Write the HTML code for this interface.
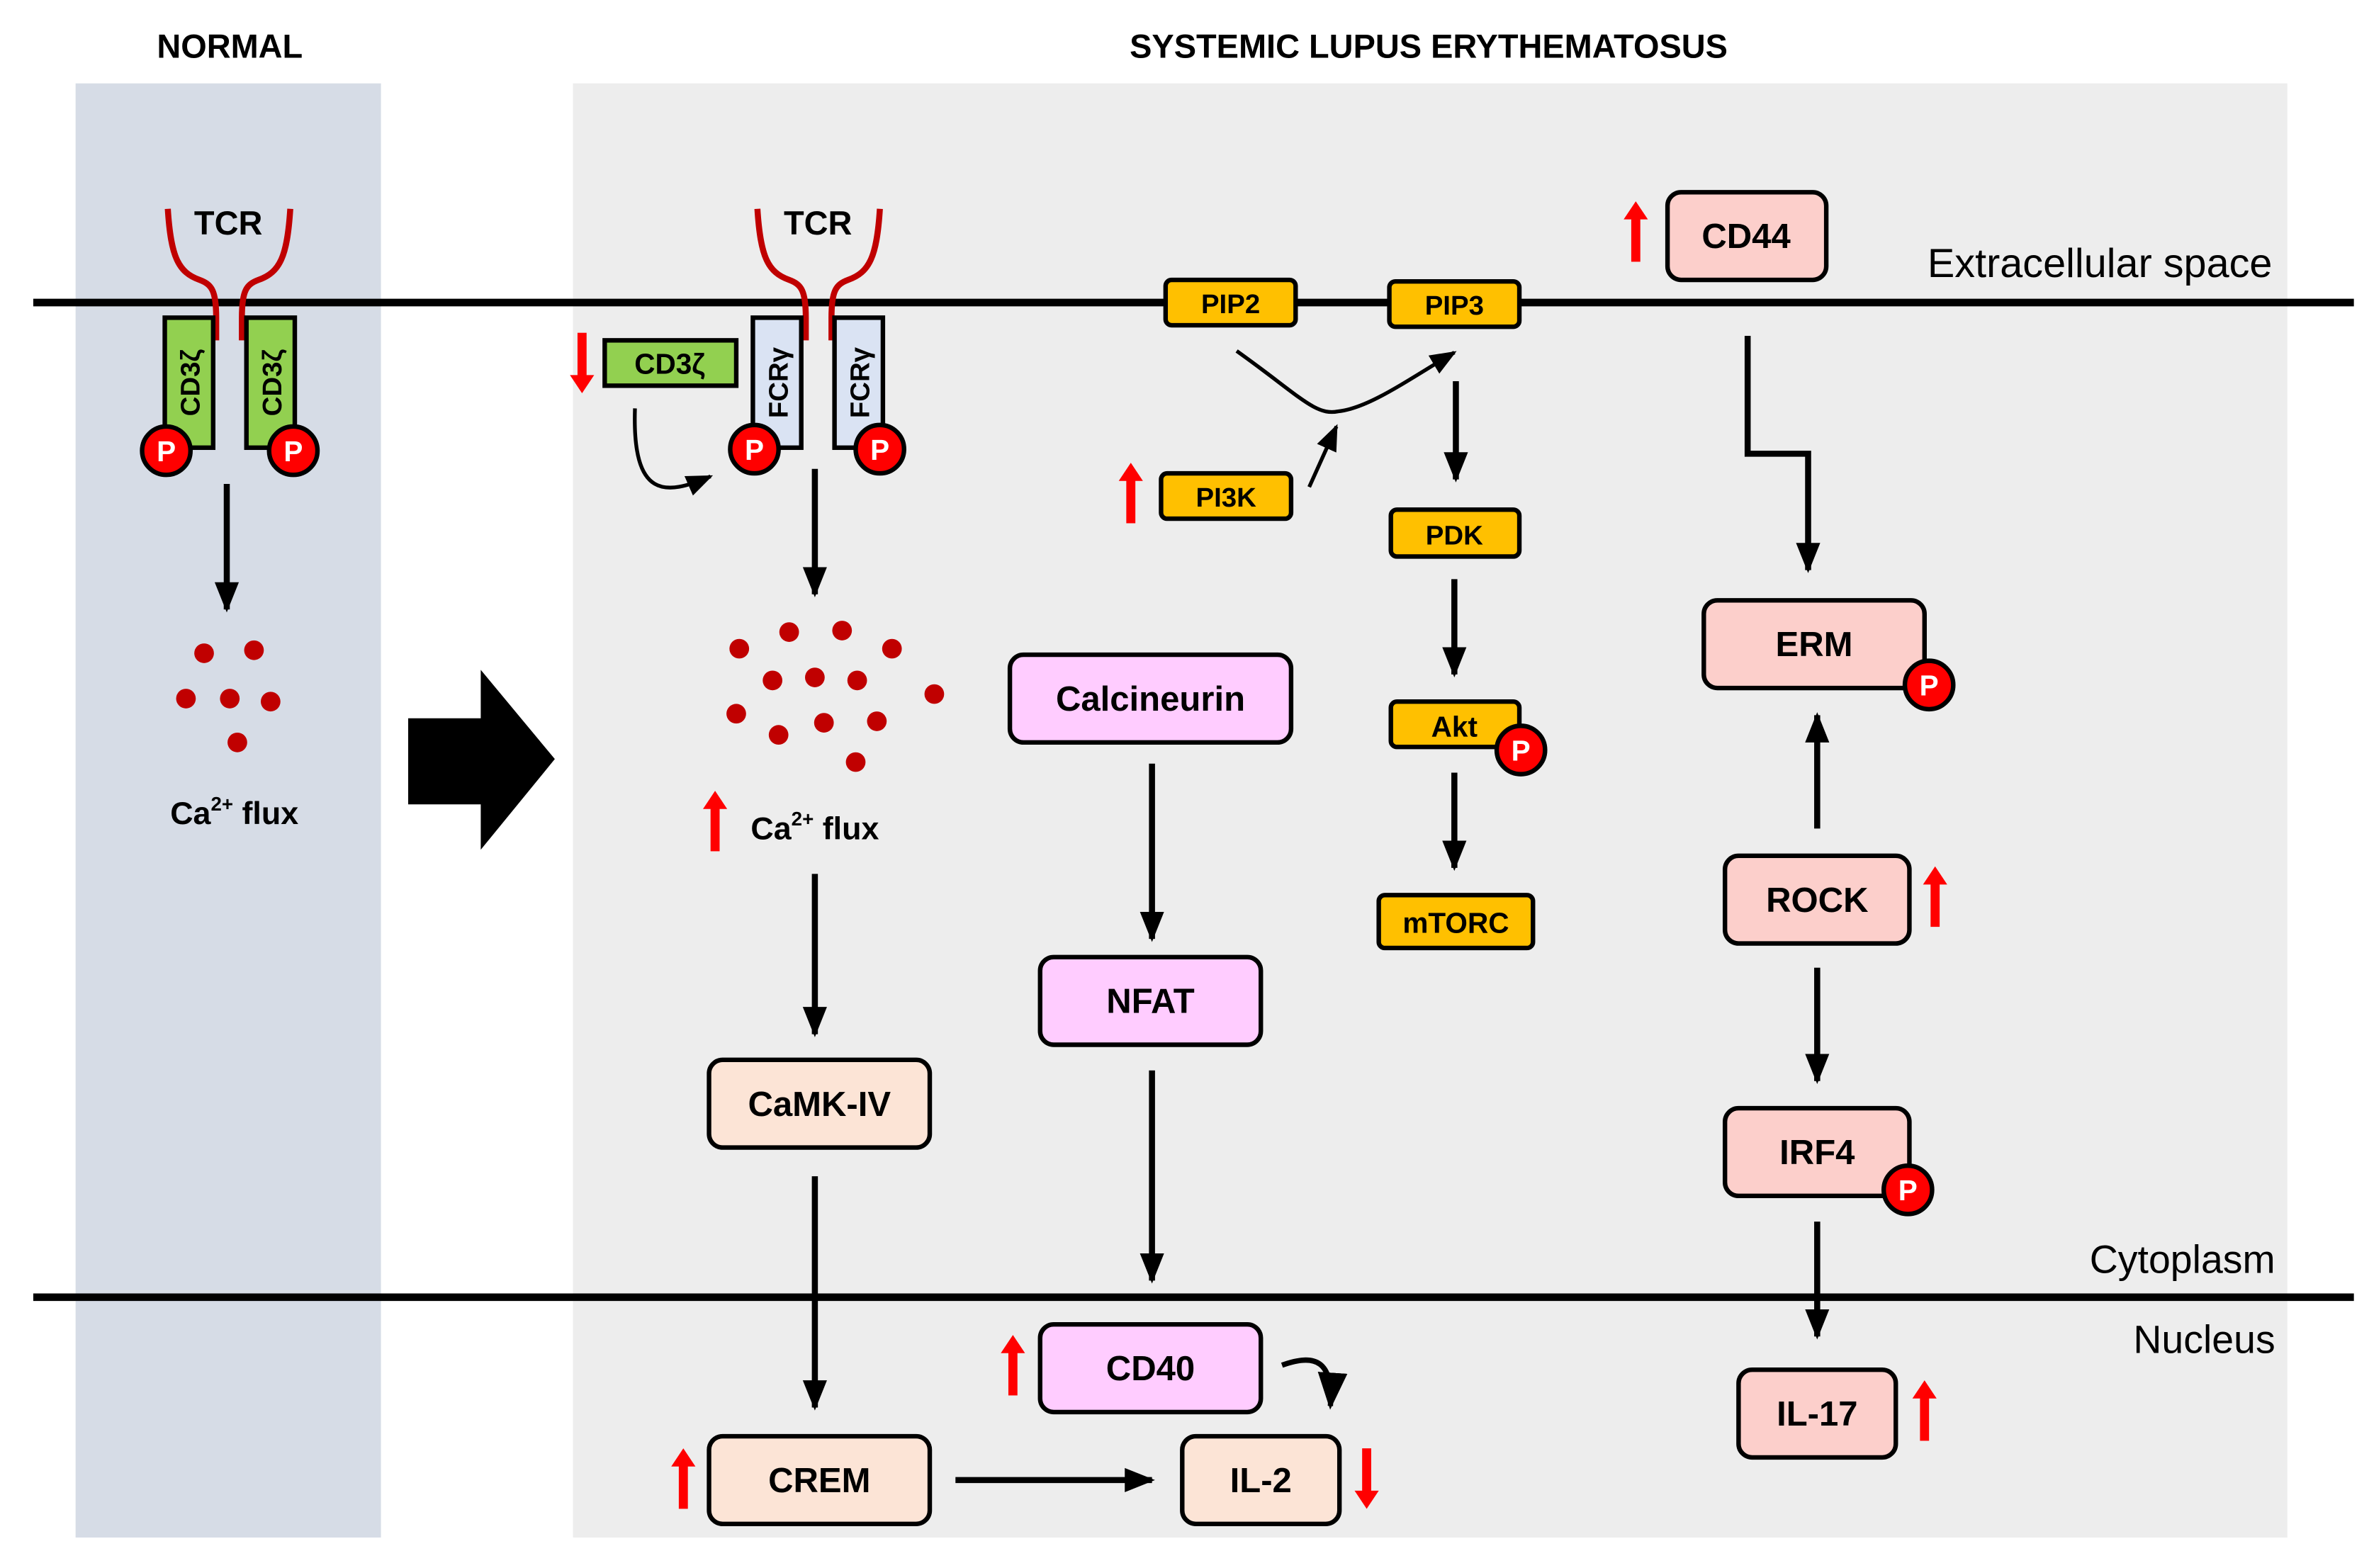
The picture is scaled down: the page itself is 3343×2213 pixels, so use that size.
<!DOCTYPE html>
<html><head><meta charset="utf-8"><style>html,body{margin:0;padding:0;background:#fff}svg{display:block}text{font-family:"Liberation Sans",sans-serif}</style></head><body>
<svg width="3343" height="2213" viewBox="0 0 1567 1037" xmlns="http://www.w3.org/2000/svg">
<defs>
<marker id="ah" viewBox="0 0 10 10" refX="9" refY="5" markerWidth="5" markerHeight="5" orient="auto-start-reverse" markerUnits="strokeWidth"><path d="M0,1 L10,5 L0,9 z" fill="#000"/></marker>
<marker id="ahs" viewBox="0 0 10 10" refX="9" refY="5" markerWidth="7" markerHeight="7" orient="auto" markerUnits="strokeWidth"><path d="M0,1 L10,5 L0,9 z" fill="#000"/></marker>
<g id="up"><rect x="-3" y="8" width="6" height="30" fill="#f00"/><path d="M-8,10 L0,-2 L8,10 z" fill="#f00"/></g>
<g id="dn"><rect x="-3" y="-2" width="6" height="30" fill="#f00"/><path d="M-8,26 L0,38 L8,26 z" fill="#f00"/></g>
<g id="pc"><circle r="16" fill="#f00" stroke="#000" stroke-width="3"/><text y="7" text-anchor="middle" font-size="19" font-weight="bold" fill="#fff">P</text></g>
</defs>
<rect width="1567" height="1037" fill="#fff"/>
<rect x="50" y="55" width="202" height="962" fill="#d6dce6"/>
<rect x="379" y="55" width="1134" height="962" fill="#ededed"/>
<text x="152" y="38" text-anchor="middle" font-size="22" font-weight="bold">NORMAL</text>
<text x="945" y="38" text-anchor="middle" font-size="22" font-weight="bold">SYSTEMIC LUPUS ERYTHEMATOSUS</text>
<text x="1503" y="183" text-anchor="end" font-size="27">Extracellular space</text>
<text x="1505" y="842" text-anchor="end" font-size="26">Cytoplasm</text>
<text x="1505" y="895" text-anchor="end" font-size="26">Nucleus</text>
<line x1="22" y1="200" x2="1557" y2="200" stroke="#000" stroke-width="5"/>
<line x1="22" y1="858" x2="1557" y2="858" stroke="#000" stroke-width="5"/>
<g fill="none" stroke="#c00000" stroke-width="4">
<path d="M111,138 C113,170 118,180 132,185 C140,188 143,192 143,210 L143,225"/>
<path d="M192,138 C190,170 185,180 171,185 C163,188 160,192 160,210 L160,225"/>
<path d="M501,138 C503,170 508,180 522,185 C530,188 533,192 533,210 L533,225"/>
<path d="M582,138 C580,170 575,180 561,185 C553,188 550,192 550,210 L550,225"/>
</g>
<text x="151" y="155" text-anchor="middle" font-size="22" font-weight="bold">TCR</text>
<text x="541" y="155" text-anchor="middle" font-size="22" font-weight="bold">TCR</text>
<rect x="109" y="210" width="32" height="86" fill="#92d050" stroke="#000" stroke-width="3"/>
<rect x="163" y="210" width="32" height="86" fill="#92d050" stroke="#000" stroke-width="3"/>
<text transform="translate(132,253) rotate(-90)" text-anchor="middle" font-size="18" font-weight="bold">CD3ζ</text>
<text transform="translate(186,253) rotate(-90)" text-anchor="middle" font-size="18" font-weight="bold">CD3ζ</text>
<use href="#pc" x="110" y="298"/><use href="#pc" x="194" y="298"/>
<line x1="150" y1="320" x2="150" y2="403" stroke="#000" stroke-width="4" marker-end="url(#ah)"/>
<g fill="#c00000"><circle cx="135" cy="432" r="6.5"/><circle cx="168" cy="430" r="6.5"/><circle cx="123" cy="462" r="6.5"/><circle cx="152" cy="462" r="6.5"/><circle cx="179" cy="464" r="6.5"/><circle cx="157" cy="491" r="6.5"/></g>
<text x="155" y="545" text-anchor="middle" font-size="21" font-weight="bold">Ca<tspan font-size="13" dy="-9">2+</tspan><tspan dy="9"> flux</tspan></text>
<polygon points="270,475 318,475 318,443 367,502 318,562 318,532 270,532" fill="#000"/>
<use href="#dn" x="385" y="222"/>
<rect x="400" y="225" width="87" height="30" fill="#92d050" stroke="#000" stroke-width="3"/>
<text x="443" y="247" text-anchor="middle" font-size="19" font-weight="bold">CD3ζ</text>
<rect x="498" y="210" width="32" height="86" fill="#dae3f3" stroke="#000" stroke-width="3"/>
<rect x="552" y="210" width="32" height="86" fill="#dae3f3" stroke="#000" stroke-width="3"/>
<text transform="translate(521,253) rotate(-90)" text-anchor="middle" font-size="18" font-weight="bold">FCRγ</text>
<text transform="translate(575,253) rotate(-90)" text-anchor="middle" font-size="18" font-weight="bold">FCRγ</text>
<use href="#pc" x="499" y="297"/><use href="#pc" x="582" y="297"/>
<path d="M420,270 C418,330 440,328 470,315" fill="none" stroke="#000" stroke-width="2.5" marker-end="url(#ahs)"/>
<line x1="539" y1="310" x2="539" y2="393" stroke="#000" stroke-width="4" marker-end="url(#ah)"/>
<g fill="#c00000"><circle cx="522" cy="418" r="6.5"/><circle cx="557" cy="417" r="6.5"/><circle cx="489" cy="429" r="6.5"/><circle cx="590" cy="429" r="6.5"/><circle cx="511" cy="450" r="6.5"/><circle cx="539" cy="448" r="6.5"/><circle cx="567" cy="450" r="6.5"/><circle cx="618" cy="459" r="6.5"/><circle cx="487" cy="472" r="6.5"/><circle cx="515" cy="486" r="6.5"/><circle cx="545" cy="478" r="6.5"/><circle cx="580" cy="477" r="6.5"/><circle cx="566" cy="504" r="6.5"/></g>
<use href="#up" x="473" y="525"/>
<text x="539" y="555" text-anchor="middle" font-size="21" font-weight="bold">Ca<tspan font-size="13" dy="-9">2+</tspan><tspan dy="9"> flux</tspan></text>
<line x1="539" y1="578" x2="539" y2="684" stroke="#000" stroke-width="4" marker-end="url(#ah)"/>
<rect x="469" y="701" width="146" height="58" rx="9" fill="#fce4d6" stroke="#000" stroke-width="3"/>
<text x="542" y="738" text-anchor="middle" font-size="23" font-weight="bold">CaMK-IV</text>
<line x1="539" y1="778" x2="539" y2="931" stroke="#000" stroke-width="4" marker-end="url(#ah)"/>
<rect x="469" y="950" width="146" height="58" rx="9" fill="#fce4d6" stroke="#000" stroke-width="3"/>
<text x="542" y="987" text-anchor="middle" font-size="23" font-weight="bold">CREM</text>
<use href="#up" x="452" y="960"/>
<line x1="632" y1="979" x2="762" y2="979" stroke="#000" stroke-width="4" marker-end="url(#ah)"/>
<rect x="782" y="950" width="104" height="58" rx="9" fill="#fce4d6" stroke="#000" stroke-width="3"/>
<text x="834" y="987" text-anchor="middle" font-size="23" font-weight="bold">IL-2</text>
<use href="#dn" x="904" y="960"/>
<rect x="668" y="433" width="186" height="58" rx="9" fill="#ffccff" stroke="#000" stroke-width="3"/>
<text x="761" y="470" text-anchor="middle" font-size="23" font-weight="bold">Calcineurin</text>
<line x1="762" y1="505" x2="762" y2="621" stroke="#000" stroke-width="4" marker-end="url(#ah)"/>
<rect x="688" y="633" width="146" height="58" rx="9" fill="#ffccff" stroke="#000" stroke-width="3"/>
<text x="761" y="670" text-anchor="middle" font-size="23" font-weight="bold">NFAT</text>
<line x1="762" y1="708" x2="762" y2="847" stroke="#000" stroke-width="4" marker-end="url(#ah)"/>
<rect x="688" y="876" width="146" height="58" rx="9" fill="#ffccff" stroke="#000" stroke-width="3"/>
<text x="761" y="913" text-anchor="middle" font-size="23" font-weight="bold">CD40</text>
<use href="#up" x="670" y="885"/>
<path d="M848,903 C870,895 882,900 880,930" fill="none" stroke="#000" stroke-width="3.5" marker-end="url(#ahs)"/>
<rect x="771" y="185" width="86" height="30" rx="4" fill="#ffc000" stroke="#000" stroke-width="3"/>
<text x="814" y="207" text-anchor="middle" font-size="18" font-weight="bold">PIP2</text>
<rect x="919" y="186" width="86" height="30" rx="4" fill="#ffc000" stroke="#000" stroke-width="3"/>
<text x="962" y="208" text-anchor="middle" font-size="18" font-weight="bold">PIP3</text>
<path d="M818,232 C860,262 870,275 885,272 C905,270 930,252 962,233" fill="none" stroke="#000" stroke-width="2.5" marker-end="url(#ahs)"/>
<rect x="768" y="313" width="86" height="30" rx="4" fill="#ffc000" stroke="#000" stroke-width="3"/>
<text x="811" y="335" text-anchor="middle" font-size="18" font-weight="bold">PI3K</text>
<use href="#up" x="748" y="308"/>
<line x1="866" y1="322" x2="884" y2="282" stroke="#000" stroke-width="2.5" marker-end="url(#ahs)"/>
<line x1="963" y1="252" x2="963" y2="317" stroke="#000" stroke-width="4" marker-end="url(#ah)"/>
<rect x="920" y="337" width="85" height="31" rx="4" fill="#ffc000" stroke="#000" stroke-width="3"/>
<text x="962" y="360" text-anchor="middle" font-size="18" font-weight="bold">PDK</text>
<line x1="962" y1="383" x2="962" y2="446" stroke="#000" stroke-width="4" marker-end="url(#ah)"/>
<rect x="920" y="464" width="85" height="30" rx="4" fill="#ffc000" stroke="#000" stroke-width="3"/>
<text x="962" y="487" text-anchor="middle" font-size="19" font-weight="bold">Akt</text>
<use href="#pc" x="1006" y="496"/>
<line x1="962" y1="511" x2="962" y2="574" stroke="#000" stroke-width="4" marker-end="url(#ah)"/>
<rect x="912" y="592" width="102" height="35" rx="4" fill="#ffc000" stroke="#000" stroke-width="3"/>
<text x="963" y="617" text-anchor="middle" font-size="19" font-weight="bold">mTORC</text>
<rect x="1103" y="127" width="105" height="58" rx="9" fill="#fccfcb" stroke="#000" stroke-width="3"/>
<text x="1155" y="164" text-anchor="middle" font-size="23" font-weight="bold">CD44</text>
<use href="#up" x="1082" y="135"/>
<path d="M1156,222 L1156,300 L1196,300 L1196,377" fill="none" stroke="#000" stroke-width="4" marker-end="url(#ah)"/>
<rect x="1127" y="397" width="146" height="58" rx="9" fill="#fccfcb" stroke="#000" stroke-width="3"/>
<text x="1200" y="434" text-anchor="middle" font-size="23" font-weight="bold">ERM</text>
<use href="#pc" x="1276" y="453"/>
<line x1="1202" y1="548" x2="1202" y2="473" stroke="#000" stroke-width="4" marker-end="url(#ah)"/>
<rect x="1141" y="566" width="122" height="58" rx="9" fill="#fccfcb" stroke="#000" stroke-width="3"/>
<text x="1202" y="603" text-anchor="middle" font-size="23" font-weight="bold">ROCK</text>
<use href="#up" x="1280" y="575"/>
<line x1="1202" y1="640" x2="1202" y2="715" stroke="#000" stroke-width="4" marker-end="url(#ah)"/>
<rect x="1141" y="733" width="122" height="58" rx="9" fill="#fccfcb" stroke="#000" stroke-width="3"/>
<text x="1202" y="770" text-anchor="middle" font-size="23" font-weight="bold">IRF4</text>
<use href="#pc" x="1262" y="787"/>
<line x1="1202" y1="808" x2="1202" y2="884" stroke="#000" stroke-width="4" marker-end="url(#ah)"/>
<rect x="1150" y="906" width="104" height="58" rx="9" fill="#fccfcb" stroke="#000" stroke-width="3"/>
<text x="1202" y="943" text-anchor="middle" font-size="23" font-weight="bold">IL-17</text>
<use href="#up" x="1273" y="915"/>
</svg>
</body></html>
